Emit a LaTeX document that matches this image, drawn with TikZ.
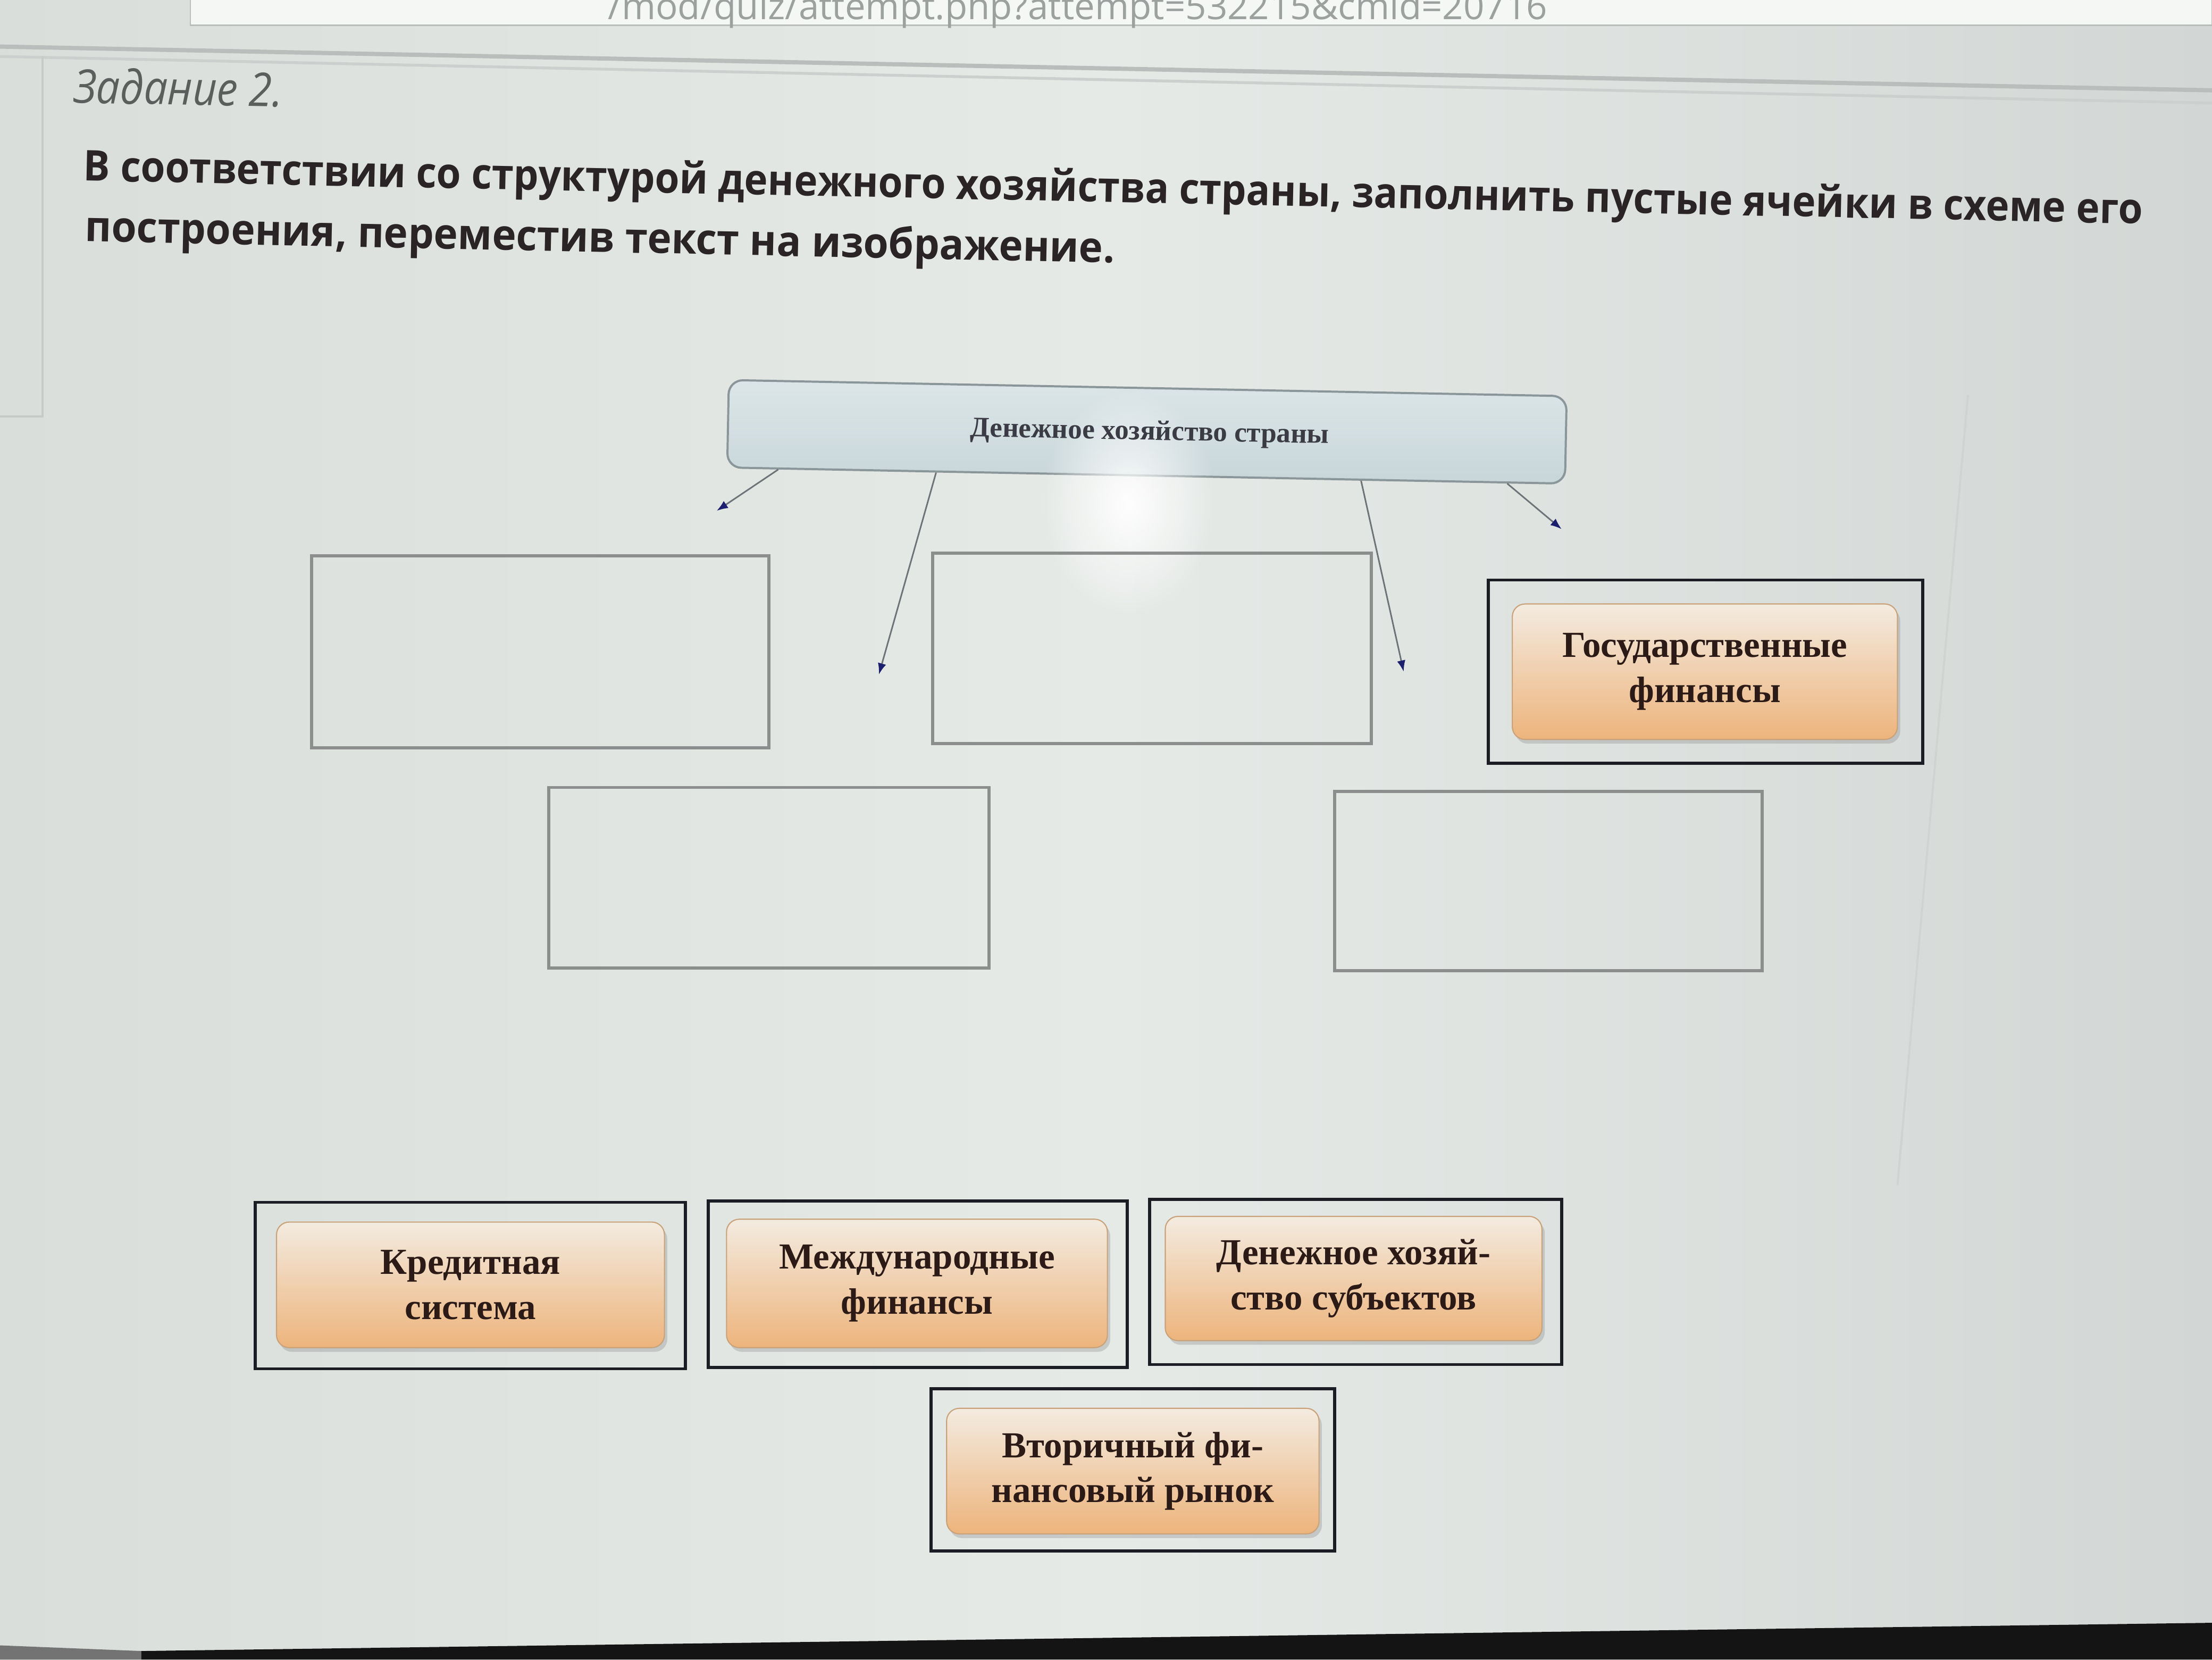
\documentclass[tikz,border=0pt]{standalone}
\usepackage{fontspec}
\setmainfont{Liberation Serif}
\newfontfamily\uisans{Open Sans}
\newfontfamily\cardserif{Liberation Serif}
\usetikzlibrary{arrows.meta,shadows,calc,fadings}
\tikzfading[name=softglow, inner color=transparent!0, outer color=transparent!100]
\definecolor{bgmid}{HTML}{E6EAE7}
\definecolor{bgleft}{HTML}{D9DEDB}
\definecolor{bgright}{HTML}{D2D7D5}
\definecolor{slotgray}{HTML}{8C8E8E}
\definecolor{holderblack}{HTML}{1C1D24}
\definecolor{cardtop}{HTML}{F3EBE0}
\definecolor{cardbot}{HTML}{EDB47C}
\definecolor{cardedge}{HTML}{C9A27A}
\definecolor{cardtext}{HTML}{2B1A16}
\definecolor{linegray}{HTML}{6E7378}
\definecolor{tipblue}{HTML}{1B1F6E}
\definecolor{topfilltop}{HTML}{DCE6E8}
\definecolor{topfillbot}{HTML}{C8D6D9}
\definecolor{topedge}{HTML}{8A9699}
\definecolor{toptxt}{HTML}{3A3B44}
\definecolor{instr}{HTML}{2A2426}
\definecolor{titlegray}{HTML}{5A5E5C}
\definecolor{urlgray}{HTML}{9CA19F}
\definecolor{panelline}{HTML}{B9BDBB}
\tikzset{
  slot/.style={draw=slotgray, line width=2.2pt, inner sep=0pt},
  holder/.style={draw=holderblack, line width=2.2pt, inner sep=0pt},
  card/.style={rounded corners=9pt, draw=cardedge, line width=0.8pt,
    top color=cardtop, bottom color=cardbot,
    drop shadow={shadow xshift=2pt, shadow yshift=-3pt, opacity=0.3},
    inner sep=0pt, align=center, text=cardtext,
    font=\cardserif\bfseries\fontsize{26}{32}\selectfont},
  conn/.style={draw=linegray, line width=1.1pt,
    -{Latex[length=8pt,width=6pt,color=tipblue]}},
}
\begin{document}
\begin{tikzpicture}[x=1pt,y=-1pt]
\useasboundingbox (0,0) rectangle (1568,1176);
% background
\shade[left color=bgleft, right color=bgright, middle color=bgmid] (0,0) rectangle (1568,1176);
% browser bar
\draw[fill=white!60!bgmid, draw=panelline, line width=1pt] (135,-10) rectangle (1568,18);
\node[anchor=east, text=urlgray, font=\uisans\fontsize{26}{30}\selectfont, inner sep=0pt]
  (url) at (1097,7) {/mod/quiz/attempt.php?attempt=532215\&cmid=20716};
% screen band
\draw[panelline, line width=3pt] (0,33) -- (1568,64);
\draw[panelline!60!bgmid, line width=2pt] (0,40) -- (1568,73);
% left panel lines
\draw[panelline!70!bgmid, line width=1.5pt] (30,40) -- (30,295) -- (0,295);
% right faint page edge
\draw[panelline!50!bgmid, line width=1.5pt] (1395,280) -- (1345,840);
% title
\node[anchor=base west, inner sep=0pt, text=titlegray, rotate=-1.0] (title) at (52,73)
  {\resizebox{148pt}{\height}{\uisans\itshape\fontsize{33}{38}\selectfont Задание 2.}};
% instruction (two lines, one node; base anchor = last line)
\node[anchor=base west, inner sep=0pt, text=instr, rotate=-1.2, align=left,
  font=\uisans\bfseries\fontsize{30}{43}\selectfont] (instr) at (58,171)
  {\resizebox{1460pt}{\height}{В соответствии со структурой денежного хозяйства страны, заполнить пустые ячейки в схеме его}\\
   \hspace*{2pt}\resizebox{730pt}{\height}{построения, переместив текст на изображение.}};
% top box
\node[rounded corners=10pt, draw=topedge, line width=1.5pt, top color=topfilltop, bottom color=topfillbot,
  minimum width=594pt, minimum height=62pt, inner sep=0pt, rotate=-1.1] (top) at (813,306) {};
\fill[white, opacity=0.95, path fading=softglow] (800,357) ellipse (62 and 80);
\node[font=\cardserif\bfseries\fontsize{20}{24}\selectfont, text=toptxt, rotate=-1.1] (toptext) at (815,307)
  {Денежное хозяйство страны};
% arrow endpoints
\coordinate (e1) at (508,362);
\coordinate (e2) at (623,478);
\coordinate (e3) at (995,476);
\coordinate (e4) at (1107,375);
\draw[conn] ($(top.south west)!0.062!(top.south east)$) -- (e1);
\draw[conn] ($(top.south west)!0.25!(top.south east)$) -- (e2);
\draw[conn] ($(top.south west)!0.756!(top.south east)$) -- (e3);
\draw[conn] ($(top.south west)!0.93!(top.south east)$) -- (e4);
% empty slots
\node[slot, minimum width=324pt, minimum height=136pt] (sA) at (383,462) {};
\node[slot, minimum width=311pt, minimum height=135pt] (sB) at (816.5,459.5) {};
\node[slot, minimum width=312pt, minimum height=128pt] (sC) at (545,622) {};
\node[slot, minimum width=303pt, minimum height=127pt] (sD) at (1097.5,624.5) {};
% filled slot
\node[holder, minimum width=308pt, minimum height=130pt] (hE) at (1209,476) {};
\node[card, minimum width=273pt, minimum height=96pt] (cE) at (1208.5,476) {Государственные\\финансы};
% answer bank
\node[holder, minimum width=305pt, minimum height=118pt] (h1) at (333.5,911) {};
\node[card, minimum width=275pt, minimum height=89pt] (c1) at (333.5,910.5) {Кредитная\\система};
\node[holder, minimum width=297pt, minimum height=118pt] (h2) at (650.5,910) {};
\node[card, minimum width=270pt, minimum height=91pt] (c2) at (650,909.5) {Международные\\финансы};
\node[holder, minimum width=292pt, minimum height=117pt] (h3) at (961,908.5) {};
\node[card, minimum width=267pt, minimum height=88pt] (c3) at (959.5,906) {Денежное хозяй-\\ство субъектов};
\node[holder, minimum width=286pt, minimum height=115pt] (h4) at (803,1041.5) {};
\node[card, minimum width=264pt, minimum height=89pt] (c4) at (803,1042.5) {Вторичный фи-\\нансовый рынок};
% bezel
\fill[black!92] (100,1170) -- (1568,1150) -- (1568,1176) -- (100,1176) -- cycle;
\fill[black!55] (0,1166) -- (100,1170) -- (100,1176) -- (0,1176) -- cycle;
\end{tikzpicture}
\end{document}
